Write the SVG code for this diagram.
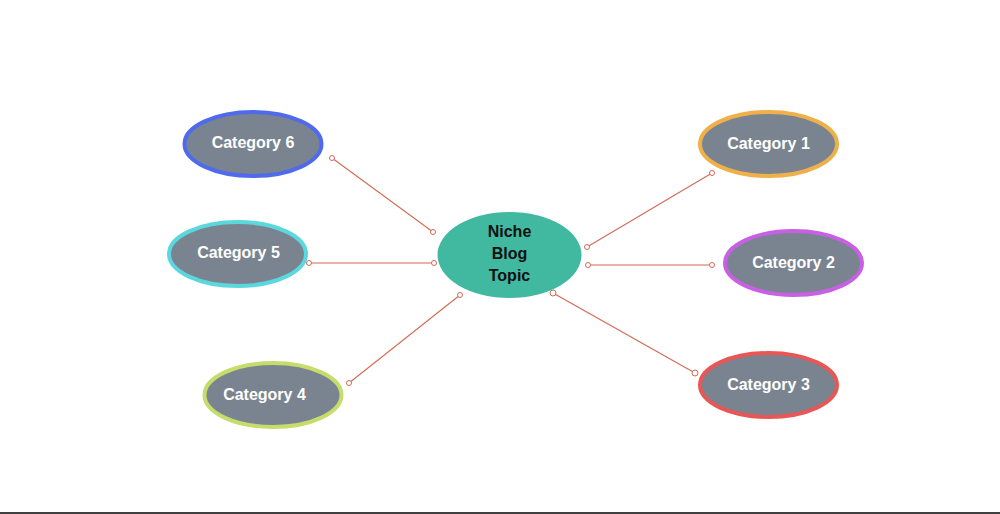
<svg xmlns="http://www.w3.org/2000/svg" width="1000" height="514" viewBox="0 0 1000 514">
<style>
.cat{fill:#7a8490;stroke-width:4}
.lbl{font-family:"Liberation Sans",Arial,sans-serif;font-weight:bold;font-size:16px;fill:#ffffff;text-anchor:middle;dominant-baseline:central}
.ctr{font-family:"Liberation Sans",Arial,sans-serif;font-weight:bold;font-size:16px;fill:#111111;text-anchor:middle;dominant-baseline:central}
.ln{stroke:#d26a55;stroke-width:1.1;fill:none}
.dot{fill:#ffffff;stroke:#d26a55;stroke-width:1}
</style>
<rect width="1000" height="514" fill="#ffffff"/>
<g id="connectors">
<line class="ln" x1="332" y1="158" x2="433" y2="232"/>
<line class="ln" x1="309" y1="263" x2="434" y2="263"/>
<line class="ln" x1="349" y1="383" x2="460" y2="295"/>
<line class="ln" x1="712" y1="173" x2="587" y2="247"/>
<line class="ln" x1="712" y1="265" x2="588" y2="265"/>
<line class="ln" x1="695" y1="373" x2="553" y2="293"/>
<circle class="dot" cx="332" cy="158" r="2.5"/>
<circle class="dot" cx="433" cy="232" r="2.5"/>
<circle class="dot" cx="309" cy="263" r="2.5"/>
<circle class="dot" cx="434" cy="263" r="2.5"/>
<circle class="dot" cx="349" cy="383" r="2.5"/>
<circle class="dot" cx="460" cy="295" r="2.5"/>
<circle class="dot" cx="712" cy="173" r="2.5"/>
<circle class="dot" cx="587" cy="247" r="2.5"/>
<circle class="dot" cx="712" cy="265" r="2.5"/>
<circle class="dot" cx="588" cy="265" r="2.5"/>
<circle class="dot" cx="695" cy="373" r="3"/>
<circle class="dot" cx="553" cy="293" r="3"/>
</g>
<g id="center">
<ellipse cx="509.5" cy="255" rx="72" ry="43" fill="#41b8a0"/>
<text class="ctr" x="509.5" y="231">Niche</text>
<text class="ctr" x="509.5" y="253">Blog</text>
<text class="ctr" x="509.5" y="275">Topic</text>
</g>
<g id="cat1">
<ellipse class="cat" cx="768.5" cy="144" rx="68.5" ry="32" stroke="#efb04a"/>
<text class="lbl" x="768.5" y="143">Category 1</text>
</g>
<g id="cat2">
<ellipse class="cat" cx="793.5" cy="263" rx="68.5" ry="32" stroke="#c95fe3"/>
<text class="lbl" x="793.5" y="262.5">Category 2</text>
</g>
<g id="cat3">
<ellipse class="cat" cx="768.5" cy="385" rx="68.5" ry="32" stroke="#e85656"/>
<text class="lbl" x="768.5" y="384.5">Category 3</text>
</g>
<g id="cat4">
<ellipse class="cat" cx="273" cy="395" rx="68.5" ry="32" stroke="#c6dc6b"/>
<text class="lbl" x="264.5" y="394">Category 4</text>
</g>
<g id="cat5">
<ellipse class="cat" cx="237.5" cy="254" rx="68.5" ry="32" stroke="#5bd8dd"/>
<text class="lbl" x="238.5" y="252">Category 5</text>
</g>
<g id="cat6">
<ellipse class="cat" cx="253" cy="144" rx="68.5" ry="32" stroke="#4f6aec"/>
<text class="lbl" x="253" y="142.5">Category 6</text>
</g>
<line x1="0" y1="513" x2="1000" y2="513" stroke="#000000" stroke-width="1.5"/>
</svg>
